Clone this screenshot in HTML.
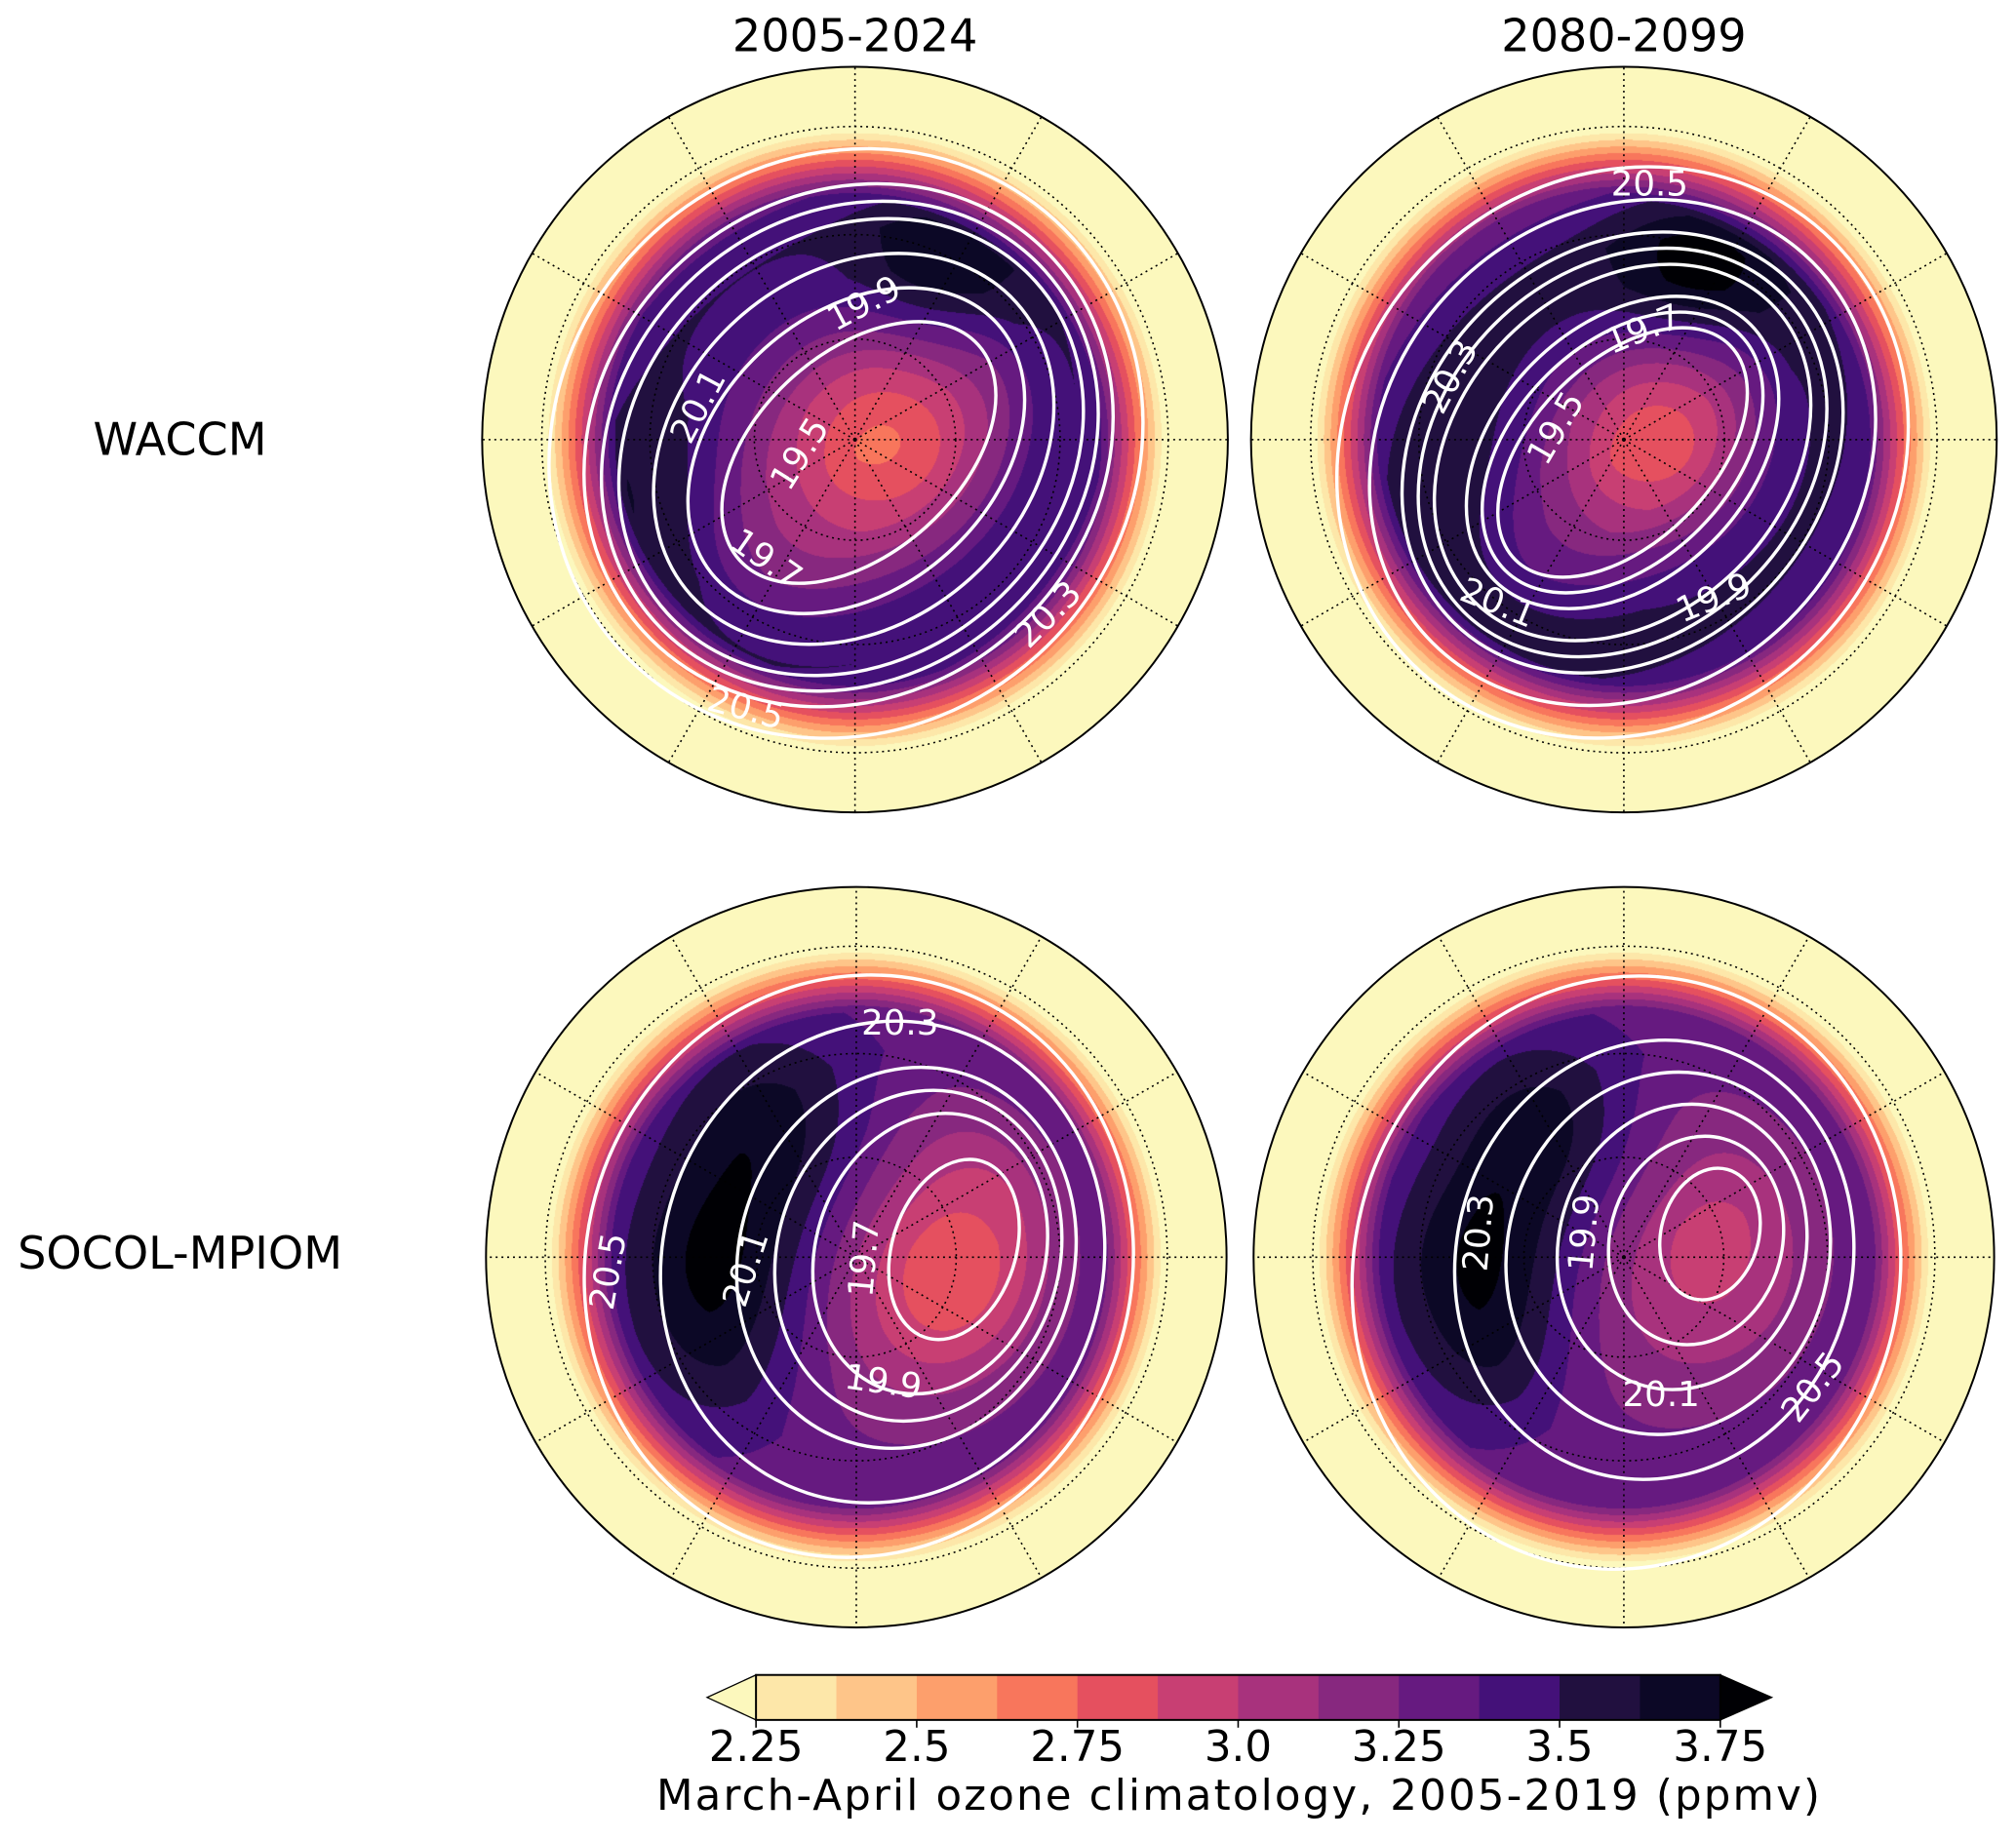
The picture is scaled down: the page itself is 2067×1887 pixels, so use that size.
<!DOCTYPE html>
<html><head><meta charset="utf-8"><style>
html,body{margin:0;padding:0;background:#fff}
#wrap{position:relative;width:2067px;height:1887px;overflow:hidden}
canvas,svg{position:absolute;left:0;top:0}
text{font-family:"DejaVu Sans","Liberation Sans",sans-serif}
</style></head><body>
<div id="wrap">
<canvas id="cv" width="2067" height="1887"></canvas>
<svg id="sv" width="2067" height="1887" viewBox="0 0 1568 1431.4" preserveAspectRatio="none">
<text x="665" y="40" font-size="35" text-anchor="middle">2005-2024</text>
<text x="1263" y="40" font-size="35" text-anchor="middle">2080-2099</text>
<text x="140" y="354" font-size="35" text-anchor="middle">WACCM</text>
<text x="140" y="987" font-size="35" text-anchor="middle">SOCOL-MPIOM</text>
<g id="panels"></g>
<g id="cbar"></g>
<text x="963" y="1408" font-size="33" text-anchor="middle" textLength="905">March-April ozone climatology, 2005-2019 (ppmv)</text>
</svg>
</div>
<script>
// colour scale
const cbBounds = [2.25,2.375,2.5,2.625,2.75,2.875,3.0,3.125,3.25,3.375,3.5,3.625,3.75];
const cbColors = ['#fde7a9','#fec589','#fd9f6c','#f8765c','#e5505f','#c83f73','#a8327d','#87287f','#661a80','#441179','#21103f','#0c0826'];
const cbTicks = [2.25,2.5,2.75,3.0,3.25,3.5,3.75];
const cbTickLabels = ['2.25','2.5','2.75','3.0','3.25','3.5','3.75'];
const extLow = '#fcf8bd', extHigh = '#000004';

// panel data (field profile vs. contour-family parameter t, bumps [x,y,amp,sigma], contour levels)
const tlProfileT = [-0.9,-0.3,0,0.3,0.55,0.8,1.0,1.15,1.3,1.6];
const tlProfileV = [3.0,3.1,3.22,3.42,3.5,3.35,3.15,2.85,2.45,2.1];
const trProfileT = [-0.9,-0.3,0,0.3,0.55,0.8,1.0,1.15,1.3,1.6];
const trProfileV = [3.0,3.15,3.3,3.5,3.55,3.4,3.2,2.9,2.45,2.1];
const blProfileT = [-0.9,-0.3,0,0.3,0.6,0.85,1.0,1.15,1.3,1.6];
const blProfileV = [2.95,3.0,3.05,3.2,3.3,3.3,3.2,2.9,2.5,2.1];
const brProfileT = [-0.9,-0.3,0,0.3,0.6,0.85,1.0,1.15,1.3,1.6];
const brProfileV = [3.05,3.08,3.12,3.2,3.3,3.3,3.2,2.9,2.5,2.1];
const tlBumps = [[730,215,0.3,45],[520,390,0.15,60],[692,345,-0.3,50]];
const trBumps = [[1320,215,0.3,45],[1180,380,0.15,60],[1296,348,-0.3,50]];
const blBumps = [[600,880,0.38,60],[555,980,0.38,55],[560,1060,0.2,50],[735,1000,-0.2,55]];
const brBumps = [[1200,880,0.38,55],[1150,980,0.4,55],[1160,1060,0.2,45],[1325,990,-0.14,55]];
const tlLevels = [19.5,19.7,19.9,20.1,20.2,20.3,20.5];
const trLevels = [19.5,19.6,19.7,19.9,20.0,20.1,20.3,20.5];
const blLevels = [19.7,19.9,20.0,20.1,20.3,20.5];
const brLevels = [19.9,20.0,20.1,20.2,20.3,20.5];

const panels = [
 {name:'waccm-2005-2024',cx:665,cy:342,R:290,c0:[668,352],c1:[658,345],a0:125,b0:78,a1:238,b1:222,ang:-42,pt:tlProfileT,pv:tlProfileV,bumps:tlBumps,levels:tlLevels,
  labels:[['19.9',672,245,-28],['20.1',543,325,-62],['19.5',622,362,-58],['19.7',596,444,35],['20.3',815,487,-45],['20.5',580,560,15]]},
 {name:'waccm-2080-2099',cx:1263,cy:342,R:290,c0:[1262,352],c1:[1262,352],a0:118,b0:70,a1:232,b1:212,ang:-45,pt:trProfileT,pv:trProfileV,bumps:trBumps,levels:trLevels,
  labels:[['20.5',1283,152,0],['19.7',1278,265,-22],['20.3',1128,302,-62],['19.5',1210,342,-60],['20.1',1165,478,22],['19.9',1333,474,-22]]},
 {name:'socol-2005-2024',cx:666,cy:978,R:288,c0:[742,972],c1:[668,985],a0:72,b0:48,a1:228,b1:212,ang:-72,pt:blProfileT,pv:blProfileV,bumps:blBumps,levels:blLevels,
  labels:[['20.3',700,805,0],['20.5',473,998,-80],['20.1',580,996,-72],['19.7',672,988,-85],['19.9',687,1084,8]]},
 {name:'socol-2080-2099',cx:1263,cy:978,R:288,c0:[1330,960],c1:[1265,990],a0:52,b0:38,a1:232,b1:212,ang:-75,pt:brProfileT,pv:brProfileV,bumps:brBumps,levels:brLevels,
  labels:[['20.3',1150,968,-85],['19.9',1232,968,-85],['20.1',1292,1094,0],['20.5',1410,1088,-52]]}
];

function interp(xs,ys,x){
  if(x<=xs[0]) return ys[0];
  for(let i=1;i<xs.length;i++){ if(x<=xs[i]){const f=(x-xs[i-1])/(xs[i]-xs[i-1]);return ys[i-1]+f*(ys[i]-ys[i-1]);} }
  return ys[ys.length-1];
}
function ellAt(p,t){
  const tc=Math.max(0,t);
  const cx=p.c0[0]+(p.c1[0]-p.c0[0])*tc, cy=p.c0[1]+(p.c1[1]-p.c0[1])*tc;
  let a,b;
  if(t>=0){a=p.a0+(p.a1-p.a0)*t; b=p.b0+(p.b1-p.b0)*t;}
  else {const s=Math.max(0.01,1+t/0.95); a=p.a0*s; b=p.b0*s;}
  return [cx,cy,a,b];
}
function gval(p,x,y,t){
  const [cx,cy,a,b]=ellAt(p,t); const th=p.ang*Math.PI/180;
  const dx=x-cx, dy=y-cy; const u=dx*Math.cos(th)+dy*Math.sin(th), v=-dx*Math.sin(th)+dy*Math.cos(th);
  return (u/a)*(u/a)+(v/b)*(v/b)-1;
}
function tOf(p,x,y){
  let lo=-0.94,hi=2.2;
  if(gval(p,x,y,lo)<=0) return lo;
  for(let i=0;i<22;i++){const m=(lo+hi)/2; if(gval(p,x,y,m)>0) lo=m; else hi=m;}
  return (lo+hi)/2;
}
function colorFor(v){
  if(v<cbBounds[0]) return extLow;
  if(v>=cbBounds[cbBounds.length-1]) return extHigh;
  for(let i=0;i<cbColors.length;i++) if(v<cbBounds[i+1]) return cbColors[i];
  return extHigh;
}
function hexRgb(h){return [parseInt(h.slice(1,3),16),parseInt(h.slice(3,5),16),parseInt(h.slice(5,7),16)];}

const K = 2067/1568;
const cv=document.getElementById('cv'); const ctx=cv.getContext('2d');
const img=ctx.createImageData(2067,1887); const D=img.data;
for(let i=0;i<D.length;i+=4){D[i]=255;D[i+1]=255;D[i+2]=255;D[i+3]=255;}
const cache={};
panels.forEach(p=>{
  const x0=Math.floor((p.cx-p.R)*K), x1=Math.ceil((p.cx+p.R)*K), y0=Math.floor((p.cy-p.R)*K), y1=Math.ceil((p.cy+p.R)*K);
  for(let py=y0;py<=y1;py++) for(let px=x0;px<=x1;px++){
    const x=(px+0.5)/K, y=(py+0.5)/K; const rho=Math.hypot(x-p.cx,y-p.cy)/p.R; if(rho>1) continue;
    let v=interp(p.pt,p.pv,tOf(p,x,y));
    p.bumps.forEach(b=>{v+=b[2]*Math.exp(-((x-b[0])**2+(y-b[1])**2)/(2*b[3]*b[3]));});
    const edge=2.3+(0.815-rho)*7; v=Math.min(v,edge);
    const c=colorFor(v); const rgb=cache[c]||(cache[c]=hexRgb(c));
    const k=(py*2067+px)*4; D[k]=rgb[0];D[k+1]=rgb[1];D[k+2]=rgb[2];
  }
});
ctx.putImageData(img,0,0);

const NS='http://www.w3.org/2000/svg';
const G=document.getElementById('panels');
function mk(tag,attrs,parent){const e=document.createElementNS(NS,tag);for(const k in attrs)e.setAttribute(k,attrs[k]);parent.appendChild(e);return e;}
panels.forEach(p=>{
  const g=mk('g',{},G);
  
  
  const gr=mk('g',{stroke:'#000','stroke-width':1.2,'stroke-dasharray':'1.5 3',fill:'none'},g);
  
  
  for(let m=0;m<12;m++){const a=(m*30-90)*Math.PI/180; mk('line',{x1:p.cx,y1:p.cy,x2:p.cx+p.R*Math.cos(a),y2:p.cy+p.R*Math.sin(a)},gr);}
  [0.27,0.55,0.84].forEach(f=>mk('circle',{cx:p.cx,cy:p.cy,r:p.R*f},gr));
  const cg=mk('g',{stroke:'#fff','stroke-width':2.6,fill:'none'},g);
  
  
  const lmin=p.levels[0], lmax=p.levels[p.levels.length-1];
  p.levels.forEach(l=>{
    const t=(l-lmin)/(lmax-lmin); const [cx,cy,a,b]=ellAt(p,t);
    const e=mk('ellipse',{cx:cx,cy:cy,rx:a,ry:b,transform:`rotate(${p.ang} ${cx} ${cy})`},cg);
    
    
  });
  p.labels.forEach(L=>{
    const t=mk('text',{x:L[1],y:L[2],'font-size':27,fill:'#fff','text-anchor':'middle',transform:`rotate(${L[3]} ${L[1]} ${L[2]-9})`},g);
    t.textContent=L[0];
    
    
  });
  const bd=mk('circle',{cx:p.cx,cy:p.cy,r:p.R,fill:'none',stroke:'#000','stroke-width':1.5},g);
  
  
});

const CB=document.getElementById('cbar');
const cbX0=588,cbX1=1338,cbY0=1303,cbY1=1338;
const xs=v=>cbX0+(v-cbBounds[0])/(cbBounds[cbBounds.length-1]-cbBounds[0])*(cbX1-cbX0);
mk('polygon',{points:`${cbX0},${cbY0} 550,${(cbY0+cbY1)/2} ${cbX0},${cbY1}`,fill:extLow,stroke:'#000','stroke-width':1},CB);
mk('polygon',{points:`${cbX1},${cbY0} 1378,${(cbY0+cbY1)/2} ${cbX1},${cbY1}`,fill:extHigh,stroke:'#000','stroke-width':1},CB);
cbColors.forEach((c,i)=>{
  const r=mk('rect',{x:xs(cbBounds[i]),y:cbY0,width:xs(cbBounds[i+1])-xs(cbBounds[i])+0.5,height:cbY1-cbY0,fill:c},CB);
  
  
});
mk('rect',{x:cbX0,y:cbY0,width:cbX1-cbX0,height:cbY1-cbY0,fill:'none',stroke:'#000','stroke-width':1.5},CB);
cbTicks.forEach((v,i)=>{
  mk('line',{x1:xs(v),y1:cbY1,x2:xs(v),y2:cbY1+6,stroke:'#000','stroke-width':1.2},CB);
  const t=mk('text',{x:xs(v),y:1370,'font-size':33,'text-anchor':'middle'},CB);
  t.textContent=cbTickLabels[i];
  
  
});
</script>
</body></html>
